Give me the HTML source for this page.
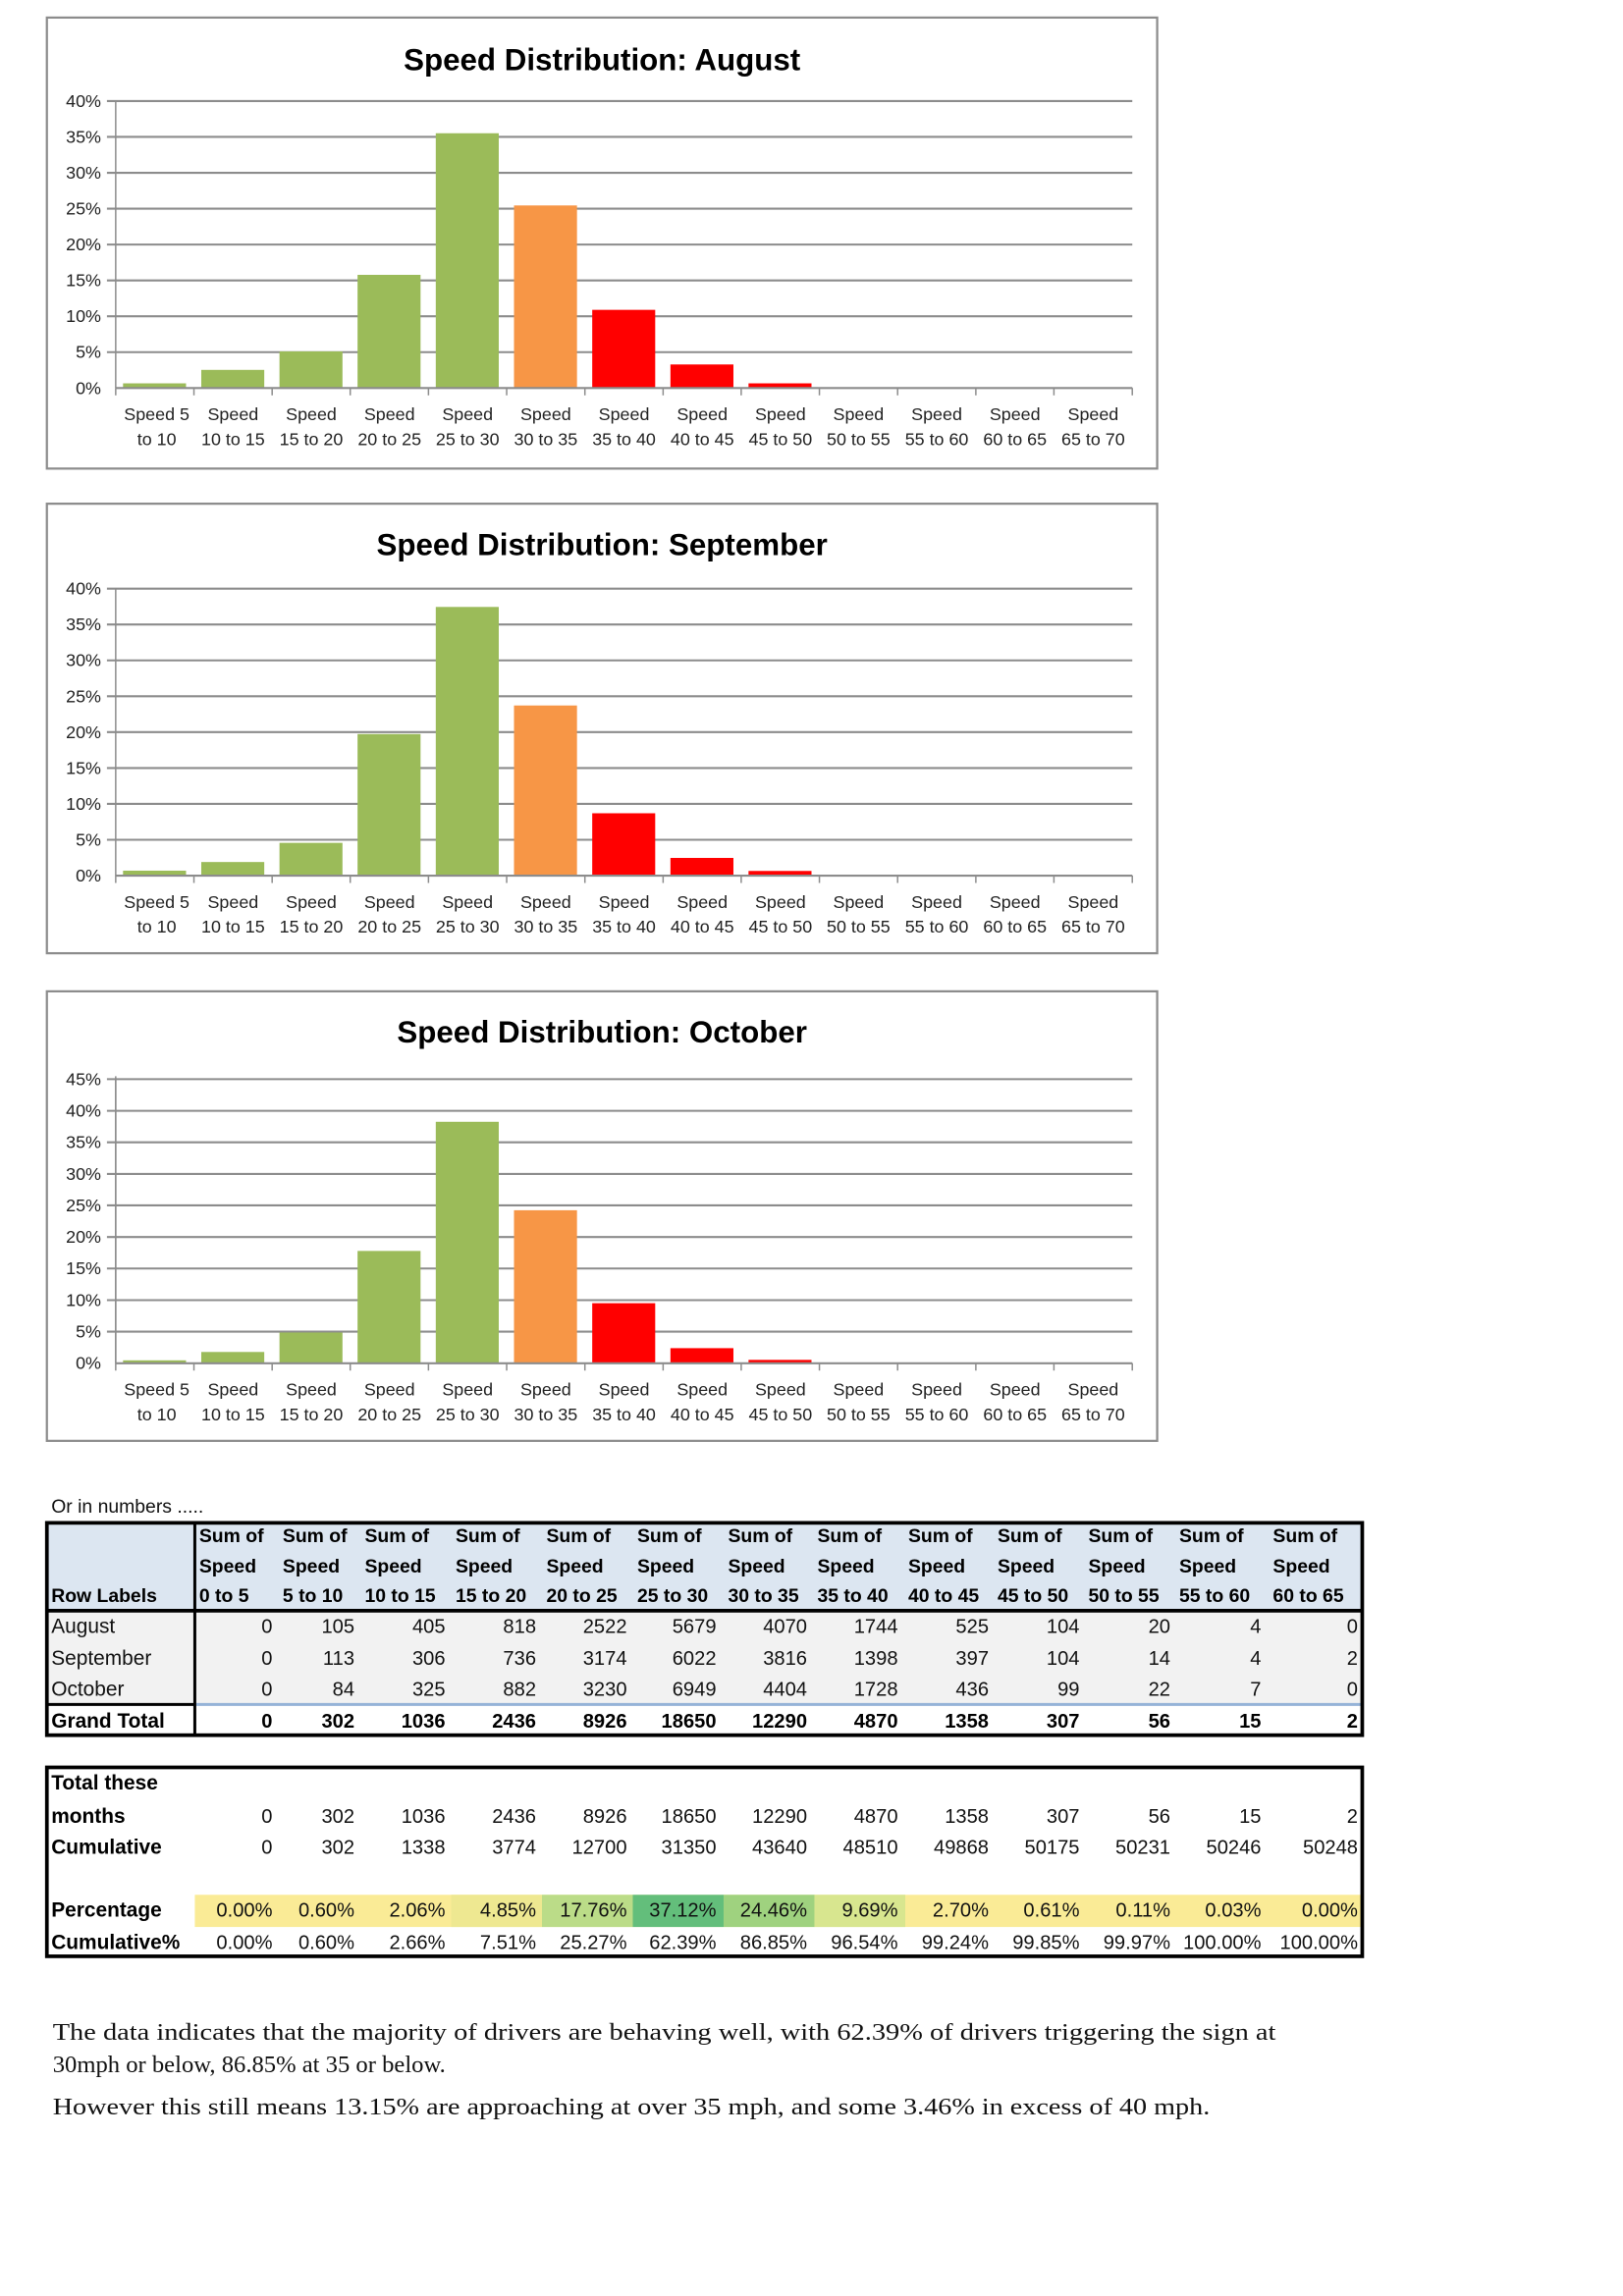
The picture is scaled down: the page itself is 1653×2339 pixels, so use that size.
<!DOCTYPE html>
<html><head><meta charset="utf-8"><style>
html,body{margin:0;padding:0;background:#fff;}
svg{display:block;}
text{font-family:"Liberation Sans",sans-serif;}
.t{font-size:21px;font-weight:bold;text-anchor:middle;fill:#000;}
.y{font-size:12px;text-anchor:end;fill:#222;}
.x{font-size:12px;text-anchor:middle;fill:#222;}
.g{stroke:#8c8c8c;stroke-width:1.4;}
.h{font-size:13px;font-weight:bold;fill:#000;}
.n{font-size:13.5px;text-anchor:end;fill:#111;}
.nb{font-size:13.5px;text-anchor:end;fill:#000;font-weight:bold;}
.l{font-size:14px;fill:#111;}
.lb{font-size:14px;fill:#000;font-weight:bold;}
.p{font-family:"Liberation Serif",serif;font-size:16.5px;fill:#111;}
</style></head><body>
<svg width="1653" height="2339" viewBox="0 0 1108 1568" preserveAspectRatio="none" xmlns="http://www.w3.org/2000/svg">
<rect width="1108" height="1568" fill="#fff"/>

<defs>
<g id="xl">
<line x1="79" y1="265" x2="773" y2="265" stroke="#8c8c8c" stroke-width="1.4"/>
<path d="M79 265v5M132.4 265v5M185.8 265v5M239.1 265v5M292.5 265v5M345.9 265v5M399.3 265v5M452.7 265v5M506 265v5M559.4 265v5M612.8 265v5M666.2 265v5M719.5 265v5M773 265v5" stroke="#8c8c8c" stroke-width="1"/>
<line x1="79" y1="69" x2="79" y2="265" stroke="#8c8c8c" stroke-width="1"/>
<g class="x">
<text x="107" y="287">Speed 5</text><text x="107" y="304">to 10</text>
<text x="159.1" y="287">Speed</text><text x="159.1" y="304">10 to 15</text>
<text x="212.5" y="287">Speed</text><text x="212.5" y="304">15 to 20</text>
<text x="265.9" y="287">Speed</text><text x="265.9" y="304">20 to 25</text>
<text x="319.2" y="287">Speed</text><text x="319.2" y="304">25 to 30</text>
<text x="372.6" y="287">Speed</text><text x="372.6" y="304">30 to 35</text>
<text x="426" y="287">Speed</text><text x="426" y="304">35 to 40</text>
<text x="479.4" y="287">Speed</text><text x="479.4" y="304">40 to 45</text>
<text x="532.8" y="287">Speed</text><text x="532.8" y="304">45 to 50</text>
<text x="586.1" y="287">Speed</text><text x="586.1" y="304">50 to 55</text>
<text x="639.5" y="287">Speed</text><text x="639.5" y="304">55 to 60</text>
<text x="692.9" y="287">Speed</text><text x="692.9" y="304">60 to 65</text>
<text x="746.3" y="287">Speed</text><text x="746.3" y="304">65 to 70</text>
</g>
</g>
<g id="g40">
<path class="g" d="M73 69H773M73 93.5H773M73 118H773M73 142.5H773M73 167H773M73 191.5H773M73 216H773M73 240.5H773"/>
<g class="y">
<text x="69" y="73">40%</text><text x="69" y="97.5">35%</text><text x="69" y="122">30%</text><text x="69" y="146.5">25%</text><text x="69" y="171">20%</text><text x="69" y="195.5">15%</text><text x="69" y="220">10%</text><text x="69" y="244.5">5%</text><text x="69" y="269">0%</text>
</g>
</g>
</defs>

<!-- Chart 1 -->
<rect x="32" y="12" width="758" height="308" fill="#fff" stroke="#8c8c8c" stroke-width="1.5"/>
<text class="t" x="411" y="48">Speed Distribution: August</text>
<use href="#g40"/>
<g>
<rect x="84" y="261.8" width="43" height="3.2" fill="#9BBB59"/>
<rect x="137.4" y="252.6" width="43" height="12.4" fill="#9BBB59"/>
<rect x="190.8" y="240" width="43" height="25" fill="#9BBB59"/>
<rect x="244.1" y="187.7" width="43" height="77.3" fill="#9BBB59"/>
<rect x="297.5" y="91" width="43" height="174" fill="#9BBB59"/>
<rect x="350.9" y="140.3" width="43" height="124.7" fill="#F79646"/>
<rect x="404.3" y="211.6" width="43" height="53.4" fill="#FF0000"/>
<rect x="457.7" y="248.9" width="43" height="16.1" fill="#FF0000"/>
<rect x="511" y="261.8" width="43" height="3.2" fill="#FF0000"/>
</g>
<use href="#xl"/>

<!-- Chart 2 -->
<g transform="translate(0,333)">
<rect x="32" y="11" width="758" height="307" fill="#fff" stroke="#8c8c8c" stroke-width="1.5"/>
<text class="t" x="411" y="46">Speed Distribution: September</text>
<use href="#g40"/>
<rect x="84" y="261.6" width="43" height="3.4" fill="#9BBB59"/>
<rect x="137.4" y="255.7" width="43" height="9.3" fill="#9BBB59"/>
<rect x="190.8" y="242.6" width="43" height="22.4" fill="#9BBB59"/>
<rect x="244.1" y="168.3" width="43" height="96.7" fill="#9BBB59"/>
<rect x="297.5" y="81.5" width="43" height="183.5" fill="#9BBB59"/>
<rect x="350.9" y="148.8" width="43" height="116.2" fill="#F79646"/>
<rect x="404.3" y="222.4" width="43" height="42.6" fill="#FF0000"/>
<rect x="457.7" y="252.9" width="43" height="12.1" fill="#FF0000"/>
<rect x="511" y="261.8" width="43" height="3.2" fill="#FF0000"/>
<use href="#xl"/>
</g>

<!-- Chart 3 -->
<g transform="translate(0,666)">
<rect x="32" y="11" width="758" height="307" fill="#fff" stroke="#8c8c8c" stroke-width="1.5"/>
<text class="t" x="411" y="46">Speed Distribution: October</text>
<path class="g" d="M73 71H773M73 92.6H773M73 114.1H773M73 135.7H773M73 157.2H773M73 178.8H773M73 200.3H773M73 221.9H773M73 243.4H773"/>
<g class="y">
<text x="69" y="75">45%</text><text x="69" y="96.6">40%</text><text x="69" y="118.1">35%</text><text x="69" y="139.7">30%</text><text x="69" y="161.2">25%</text><text x="69" y="182.8">20%</text><text x="69" y="204.3">15%</text><text x="69" y="225.9">10%</text><text x="69" y="247.4">5%</text><text x="69" y="269">0%</text>
</g>
<rect x="84" y="263" width="43" height="2" fill="#9BBB59"/>
<rect x="137.4" y="257.3" width="43" height="7.7" fill="#9BBB59"/>
<rect x="190.8" y="244" width="43" height="21" fill="#9BBB59"/>
<rect x="244.1" y="188.3" width="43" height="76.7" fill="#9BBB59"/>
<rect x="297.5" y="100.1" width="43" height="164.9" fill="#9BBB59"/>
<rect x="350.9" y="160.5" width="43" height="104.5" fill="#F79646"/>
<rect x="404.3" y="224" width="43" height="41" fill="#FF0000"/>
<rect x="457.7" y="254.7" width="43" height="10.3" fill="#FF0000"/>
<rect x="511" y="262.7" width="43" height="2.3" fill="#FF0000"/>
<line x1="79" y1="71" x2="79" y2="265" stroke="#8c8c8c" stroke-width="1"/>
<use href="#xl"/>
</g>

<!-- Table 1 -->
<text x="35" y="1033" style="font-size:13px;fill:#111">Or in numbers .....</text>
<rect x="32" y="1040" width="898" height="60" fill="#DCE6F1"/>
<rect x="32" y="1100" width="898" height="64" fill="#F2F2F2"/>
<g class="h">
<text x="35" y="1094">Row Labels</text>
<g>
<text x="136" y="1053">Sum of</text><text x="136" y="1074">Speed</text><text x="136" y="1094">0 to 5</text>
<text x="193" y="1053">Sum of</text><text x="193" y="1074">Speed</text><text x="193" y="1094">5 to 10</text>
<text x="249" y="1053">Sum of</text><text x="249" y="1074">Speed</text><text x="249" y="1094">10 to 15</text>
<text x="311" y="1053">Sum of</text><text x="311" y="1074">Speed</text><text x="311" y="1094">15 to 20</text>
<text x="373" y="1053">Sum of</text><text x="373" y="1074">Speed</text><text x="373" y="1094">20 to 25</text>
<text x="435" y="1053">Sum of</text><text x="435" y="1074">Speed</text><text x="435" y="1094">25 to 30</text>
<text x="497" y="1053">Sum of</text><text x="497" y="1074">Speed</text><text x="497" y="1094">30 to 35</text>
<text x="558" y="1053">Sum of</text><text x="558" y="1074">Speed</text><text x="558" y="1094">35 to 40</text>
<text x="620" y="1053">Sum of</text><text x="620" y="1074">Speed</text><text x="620" y="1094">40 to 45</text>
<text x="681" y="1053">Sum of</text><text x="681" y="1074">Speed</text><text x="681" y="1094">45 to 50</text>
<text x="743" y="1053">Sum of</text><text x="743" y="1074">Speed</text><text x="743" y="1094">50 to 55</text>
<text x="805" y="1053">Sum of</text><text x="805" y="1074">Speed</text><text x="805" y="1094">55 to 60</text>
<text x="869" y="1053">Sum of</text><text x="869" y="1074">Speed</text><text x="869" y="1094">60 to 65</text>
</g>
</g>
<g class="l"><text x="35" y="1115">August</text><text x="35" y="1137">September</text><text x="35" y="1158">October</text></g>
<text class="lb" x="35" y="1180">Grand Total</text>
<g class="n">
<text x="186" y="1115">0</text><text x="242" y="1115">105</text><text x="304" y="1115">405</text><text x="366" y="1115">818</text><text x="428" y="1115">2522</text><text x="489" y="1115">5679</text><text x="551" y="1115">4070</text><text x="613" y="1115">1744</text><text x="675" y="1115">525</text><text x="737" y="1115">104</text><text x="799" y="1115">20</text><text x="861" y="1115">4</text><text x="927" y="1115">0</text>
<text x="186" y="1137">0</text><text x="242" y="1137">113</text><text x="304" y="1137">306</text><text x="366" y="1137">736</text><text x="428" y="1137">3174</text><text x="489" y="1137">6022</text><text x="551" y="1137">3816</text><text x="613" y="1137">1398</text><text x="675" y="1137">397</text><text x="737" y="1137">104</text><text x="799" y="1137">14</text><text x="861" y="1137">4</text><text x="927" y="1137">2</text>
<text x="186" y="1158">0</text><text x="242" y="1158">84</text><text x="304" y="1158">325</text><text x="366" y="1158">882</text><text x="428" y="1158">3230</text><text x="489" y="1158">6949</text><text x="551" y="1158">4404</text><text x="613" y="1158">1728</text><text x="675" y="1158">436</text><text x="737" y="1158">99</text><text x="799" y="1158">22</text><text x="861" y="1158">7</text><text x="927" y="1158">0</text>
</g>
<g class="nb">
<text x="186" y="1180">0</text><text x="242" y="1180">302</text><text x="304" y="1180">1036</text><text x="366" y="1180">2436</text><text x="428" y="1180">8926</text><text x="489" y="1180">18650</text><text x="551" y="1180">12290</text><text x="613" y="1180">4870</text><text x="675" y="1180">1358</text><text x="737" y="1180">307</text><text x="799" y="1180">56</text><text x="861" y="1180">15</text><text x="927" y="1180">2</text>
</g>
<line x1="133" y1="1164" x2="930" y2="1164" stroke="#95B3D7" stroke-width="2"/>
<line x1="32" y1="1164" x2="133" y2="1164" stroke="#000" stroke-width="2"/>
<line x1="32" y1="1100" x2="930" y2="1100" stroke="#000" stroke-width="2.5"/>
<line x1="133" y1="1040" x2="133" y2="1185" stroke="#000" stroke-width="2"/>
<rect x="32" y="1040" width="898" height="145" fill="none" stroke="#000" stroke-width="2.5"/>

<!-- Table 2 -->
<rect x="133" y="1294" width="797" height="22" fill="#FAEB96"/>
<rect x="308" y="1294" width="62" height="22" fill="#EEE891"/>
<rect x="370" y="1294" width="62" height="22" fill="#BBDC88"/>
<rect x="432" y="1294" width="62" height="22" fill="#63BE7B"/>
<rect x="494" y="1294" width="62" height="22" fill="#9FD27F"/>
<rect x="556" y="1294" width="62" height="22" fill="#D8E68F"/>
<g class="lb"><text x="35" y="1222">Total these</text><text x="35" y="1245">months</text><text x="35" y="1266">Cumulative</text><text x="35" y="1309">Percentage</text><text x="35" y="1331">Cumulative%</text></g>
<g class="n">
<text x="186" y="1245">0</text><text x="242" y="1245">302</text><text x="304" y="1245">1036</text><text x="366" y="1245">2436</text><text x="428" y="1245">8926</text><text x="489" y="1245">18650</text><text x="551" y="1245">12290</text><text x="613" y="1245">4870</text><text x="675" y="1245">1358</text><text x="737" y="1245">307</text><text x="799" y="1245">56</text><text x="861" y="1245">15</text><text x="927" y="1245">2</text>
<text x="186" y="1266">0</text><text x="242" y="1266">302</text><text x="304" y="1266">1338</text><text x="366" y="1266">3774</text><text x="428" y="1266">12700</text><text x="489" y="1266">31350</text><text x="551" y="1266">43640</text><text x="613" y="1266">48510</text><text x="675" y="1266">49868</text><text x="737" y="1266">50175</text><text x="799" y="1266">50231</text><text x="861" y="1266">50246</text><text x="927" y="1266">50248</text>
<text x="186" y="1309">0.00%</text><text x="242" y="1309">0.60%</text><text x="304" y="1309">2.06%</text><text x="366" y="1309">4.85%</text><text x="428" y="1309">17.76%</text><text x="489" y="1309">37.12%</text><text x="551" y="1309">24.46%</text><text x="613" y="1309">9.69%</text><text x="675" y="1309">2.70%</text><text x="737" y="1309">0.61%</text><text x="799" y="1309">0.11%</text><text x="861" y="1309">0.03%</text><text x="927" y="1309">0.00%</text>
<text x="186" y="1331">0.00%</text><text x="242" y="1331">0.60%</text><text x="304" y="1331">2.66%</text><text x="366" y="1331">7.51%</text><text x="428" y="1331">25.27%</text><text x="489" y="1331">62.39%</text><text x="551" y="1331">86.85%</text><text x="613" y="1331">96.54%</text><text x="675" y="1331">99.24%</text><text x="737" y="1331">99.85%</text><text x="799" y="1331">99.97%</text><text x="861" y="1331">100.00%</text><text x="927" y="1331">100.00%</text>
</g>
<rect x="32" y="1207" width="898" height="129" fill="none" stroke="#000" stroke-width="2.5"/>

<!-- Paragraph -->
<text class="p" x="36" y="1393" textLength="835" lengthAdjust="spacingAndGlyphs">The data indicates that the majority of drivers are behaving well, with 62.39% of drivers triggering the sign at</text>
<text class="p" x="36" y="1415">30mph or below, 86.85% at 35 or below.</text>
<text class="p" x="36" y="1444" textLength="790" lengthAdjust="spacingAndGlyphs">However this still means 13.15% are approaching at over 35 mph, and some 3.46% in excess of 40 mph.</text>
</svg>
</body></html>
